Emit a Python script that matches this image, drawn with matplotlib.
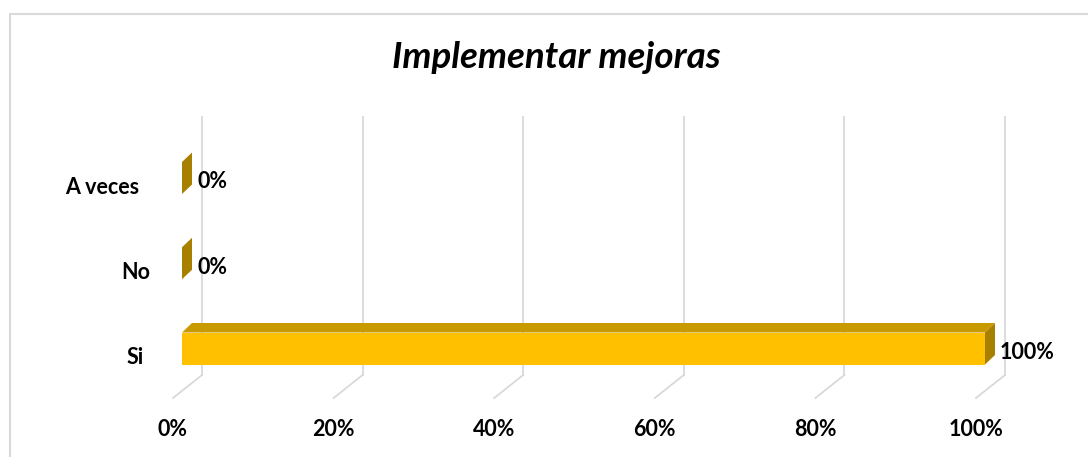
import matplotlib
matplotlib.use("Agg")
import matplotlib.pyplot as plt
from matplotlib.patches import Polygon, Rectangle

# data
categories = ["Si", "No", "A veces"]
values = [1.00, 0.00, 0.00]
value_labels = ["100%", "0%", "0%"]
ticks = [0.0, 0.2, 0.4, 0.6, 0.8, 1.0]
tick_labels = ["0%", "20%", "40%", "60%", "80%", "100%"]
title = "Implementar mejoras"

W, H = 1088, 457
PX_X = 803.0     # pixels per unit of value
PX_Y = 85.25     # pixels per category step
X0, Y0 = 182, 348.5  # pixel position of value 0 / first category


def px(d):
    return d / PX_X


def py(d):
    return d / PX_Y


plt.rcParams['font.family'] = ['Lato', 'DejaVu Sans']

fig = plt.figure(figsize=(W / 100, H / 100), dpi=100)
ax = fig.add_axes([0, 0, 1, 1])
ax.set_xlim(-X0 / PX_X, (W - X0) / PX_X)
ax.set_ylim((Y0 - H) / PX_Y, Y0 / PX_Y)
ax.axis('off')

# chart border
fig.patches.append(Rectangle((10 / W, -0.02), 1.2, 1 - 14 / H + 0.02,
                             transform=fig.transFigure, fill=False,
                             edgecolor='#d9d9d9', linewidth=1.5))

# 3d gridlines (back wall + floor)
grid_c = '#d9d9d9'
back_dx, back_dy = px(20), py(16)
front_dx, front_dy = px(-9), py(-7)
y_top = py(Y0 - 117)
y_floor = py(Y0 - 375)
for t in ticks:
    ax.plot([t + back_dx, t + back_dx], [y_floor, y_top], color=grid_c, lw=1.3, zorder=1)
    ax.plot([t + back_dx, t + front_dx], [y_floor, py(Y0 - 398)], color=grid_c, lw=1.3, zorder=1)

# bars
front_c, top_c, side_c = '#FFC000', '#C99A00', '#A88000'
h = py(16)
ddx, ddy = px(10), py(9.5)
lab_fs = 15.5
for i, v in enumerate(values):
    yc = i
    ax.add_patch(Polygon([(0, yc - h), (v, yc - h), (v, yc + h), (0, yc + h)],
                         closed=True, facecolor=front_c, edgecolor='none', zorder=3))
    ax.add_patch(Polygon([(0, yc + h), (v, yc + h), (v + ddx, yc + h + ddy), (ddx, yc + h + ddy)],
                         closed=True, facecolor=top_c, edgecolor='none', zorder=3))
    ax.add_patch(Polygon([(v, yc - h), (v + ddx, yc - h + ddy), (v + ddx, yc + h + ddy), (v, yc + h)],
                         closed=True, facecolor=side_c, edgecolor='none', zorder=4))
    ax.text(v + px(15), yc - py(4), value_labels[i], ha='left', va='center',
            fontsize=lab_fs, fontweight='bold', color='black', zorder=5)

# category labels
label_right = [144, 150, 139]
for i, c in enumerate(categories):
    ax.text(px(label_right[i] - X0), i - py(9), c, ha='right', va='center',
            fontsize=lab_fs, fontweight='bold', color='black')

# value axis labels
for t, lab in zip(ticks, tick_labels):
    ax.text(t + front_dx, py(Y0 - 430), lab, ha='center', va='center',
            fontsize=lab_fs, fontweight='bold', color='black')

ax.text(px(556 - X0), py(Y0 - 68), title, ha='center', va='baseline',
        fontsize=26.5, fontweight='bold', fontstyle='italic', color='black')

fig.savefig('out.png', dpi=100)
